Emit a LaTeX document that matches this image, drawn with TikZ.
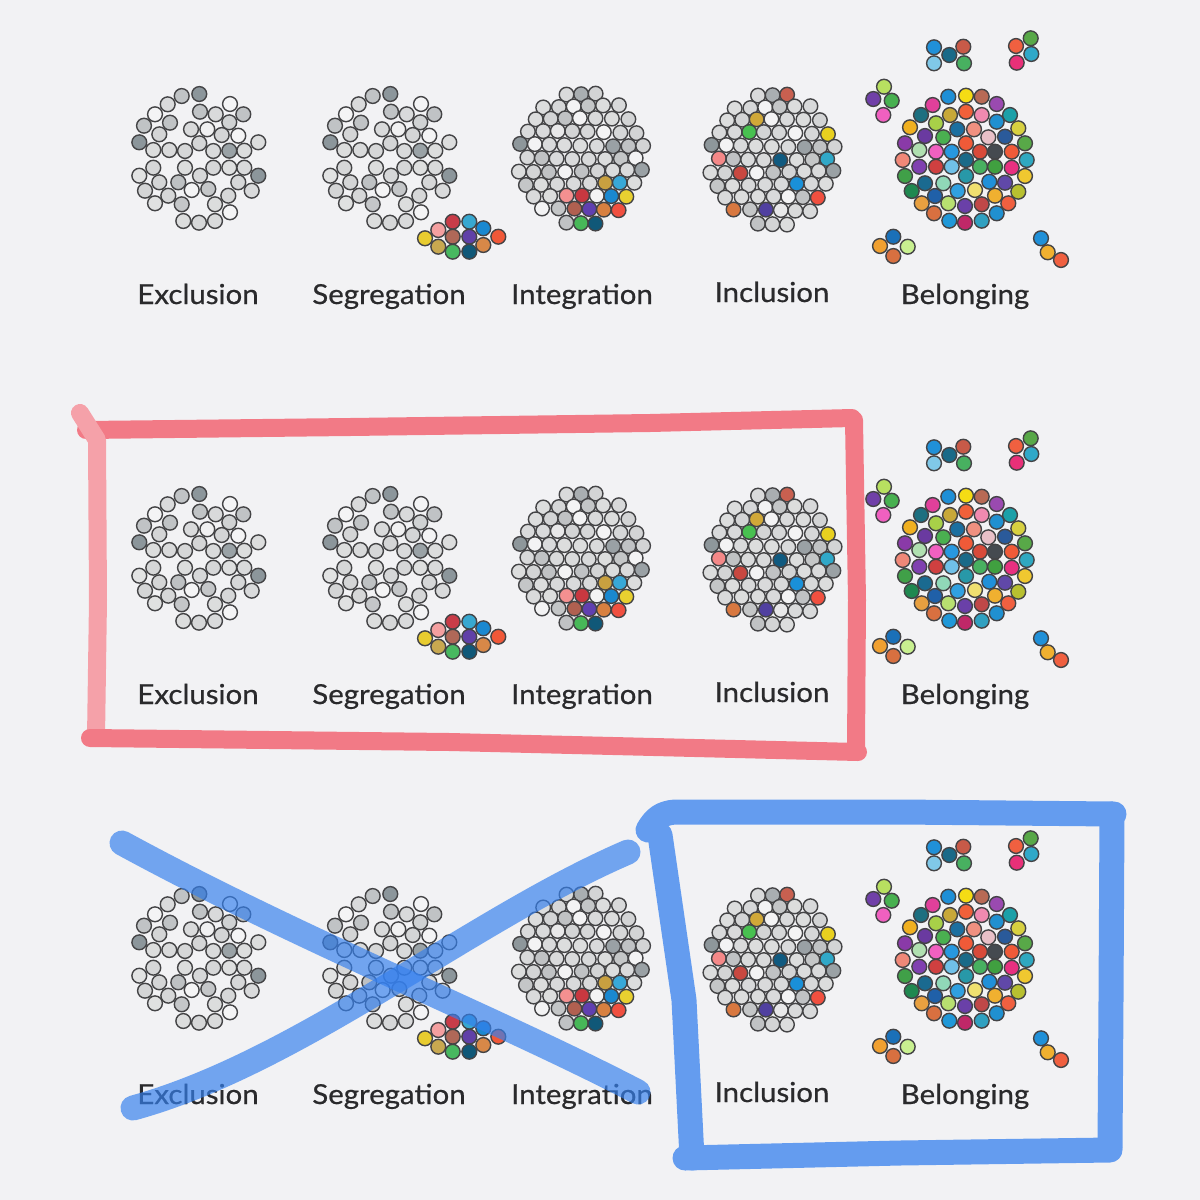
\documentclass[tikz,border=0pt]{standalone}
\usepackage{fontspec}
\setmainfont{Lato}[FakeBold=0.6, FakeStretch=1.07]
\definecolor{bg}{HTML}{F2F2F4}
\definecolor{dotline}{HTML}{444446}
\definecolor{txt}{HTML}{2A2A2C}
\definecolor{penred}{HTML}{F2606E}
\definecolor{penblue}{HTML}{3580EE}
\tikzset{
 dot/.style={draw=dotline, line width=1.4},
 lbl/.style={font=\fontsize{27.5}{30}\selectfont, text=txt, anchor=base, inner sep=0pt},
 redpen/.style={draw=penred, line width=18, line cap=round, line join=round},
 bluepen/.style={draw=penblue, line width=25, line cap=round, line join=round},
}
\newcommand\setcol[4]{\expandafter\def\csname cl@#1@#2@#3\endcsname{#4}}
% Integration overrides
\setcol{int}{2}{1}{C8A040}\setcol{int}{2}{2}{38A8D8}
\setcol{int}{3}{-1}{F49090}\setcol{int}{3}{0}{C83840}\setcol{int}{3}{2}{1A88D0}\setcol{int}{3}{3}{E8D030}
\setcol{int}{4}{-1}{B06050}\setcol{int}{4}{0}{6040B0}\setcol{int}{4}{1}{D88040}\setcol{int}{4}{2}{F05040}
\setcol{int}{5}{0}{48B858}\setcol{int}{5}{1}{105878}
\setcol{int}{-1}{-4}{8E979B}\setcol{int}{-1}{2}{9AA1A5}\setcol{int}{1}{4}{9AA1A5}\setcol{int}{-5}{0}{A9AEB1}
% Inclusion overrides
\setcol{inc}{-5}{1}{C86050}\setcol{inc}{-3}{-1}{D0A838}\setcol{inc}{-2}{3}{E8D020}\setcol{inc}{-2}{-2}{48C050}
\setcol{inc}{0}{-4}{F48888}\setcol{inc}{0}{0}{105A80}\setcol{inc}{0}{3}{30A8C8}\setcol{inc}{1}{-2}{C84840}
\setcol{inc}{2}{1}{1A90D8}\setcol{inc}{3}{3}{F05040}\setcol{inc}{4}{-1}{5040A0}\setcol{inc}{4}{-3}{D87840}
\setcol{inc}{-1}{-4}{8E979B}\setcol{inc}{-1}{2}{9AA1A5}\setcol{inc}{1}{4}{9AA1A5}\setcol{inc}{-5}{0}{A9AEB1}
\newcommand\lattice[3]{%
 \foreach \kk in {-5,...,5}{%
  \foreach \cc in {-4,...,4}{%
   \pgfmathsetmacro\xx{(\cc+(mod(abs(\kk),2)==0 ? 0.5 : 0))*15.5}%
   \pgfmathsetmacro\yy{\kk*12.9}%
   \pgfmathtruncatemacro\inside{(\xx*\xx+\yy*\yy<=4420)?1:0}%
   \ifnum\inside=1
    \ifcsname cl@#1@\kk @\cc\endcsname
     \edef\fc{\csname cl@#1@\kk @\cc\endcsname}%
    \else
     \pgfmathtruncatemacro\hh{mod(abs(7*\kk+13*\cc+5*\kk*\cc+11),10)}%
     \edef\fc{\ifcase\hh F3F3F4\or D8D9DA\or D9DADB\or D6D7D8\or DCDDDD\or D9DADB\or D3D4D5\or C4C6C7\or C0C2C4\or E8E8E9\fi}%
    \fi
    \pgfmathsetmacro\jx{1.2*sin(37*\kk+53*\cc)}%
    \pgfmathsetmacro\jy{1.2*cos(61*\kk+29*\cc)}%
    \definecolor{tmp}{HTML}{\fc}%
    \path[dot, fill=tmp] (#2+\xx+\jx, #3+\yy+\jy) circle[radius=7.3];
   \fi
  }}}
\newcommand\exclpat{%
 \foreach \x/\y/\h in {-17.3/-62/C0C3C5, 0.3/-64/8C969B, -31.3/-53.7/D9DADB, 31/-54/F4F4F5, -44/-43.7/F4F4F5, 1/-46.3/C0C3C5, 16.7/-43.7/D9DADB, 44.3/-43.7/C0C3C5, -29/-35.3/C0C3C5, 30.3/-35.7/D0D2D3, -55/-32.3/C0C3C5, -8/-28.7/D9DADB, 8.3/-28.7/F0F0F1, 22.7/-23/D4D5D6, -39.7/-23.7/D4D5D6, 39.3/-22.3/F4F4F5, -59.7/-15.7/8C969B, 0.3/-14.7/D4D5D6, 59.3/-15.7/DCDDDD, -45.7/-8/DCDDDD, -29.7/-8/D9DADB, -14/-7/D6D7D8, 14.3/-7/D9DADB, 30.3/-7.3/9AA2A6, 45.3/-7.3/DCDDDD, -45.7/9.7/D6D7D8, -14/9.7/DCDDDD, 14.3/9.7/D6D7D8, 30.3/9.7/DEDFDF, 45.3/9.7/D9DADB, -59.7/17.7/E2E3E3, 1/17.7/D6D7D8, 59.3/17.7/8C969B, -39.7/24.3/D4D5D6, -20.7/24.3/BEC1C3, 39.3/24.3/D6D7D8, -54/32.7/D4D5D6, -7.3/32/F4F4F5, 9.3/31/C4C6C8, 52.7/32.7/D9DADB, -30.7/37.7/D6D7D8, 29.3/37.7/D6D7D8, -44/45.3/E0E1E1, -17.3/46.3/C4C6C8, 16/46.3/DCDDDD, 31/54.3/F4F4F5, -15.7/63/DCDDDD, 0/64.7/D6D7D8, 16/63/D9DADB}{%
  \definecolor{tmp}{HTML}{\h}\path[dot, fill=tmp] (\x,\y) circle[radius=7.4];}}
\newcommand\dotlist[1]{%
 \foreach \x/\y/\h in {#1}{\definecolor{tmp}{HTML}{\h}\path[dot, fill=tmp] (\x,\y) circle[radius=7.4];}}
\newcommand\drawrow[1]{%
 \begin{scope}[shift={(199,158)}]\exclpat\end{scope}
 \begin{scope}[shift={(390,158)}]\exclpat\end{scope}
 \dotlist{425/238.3/E8CC30, 438.3/230/F4A0A0, 438.3/246.7/C8A850, 452.7/221.7/C83C48, 452.7/236.7/B06858, 452.7/251.7/48B860, 469.3/221.7/38A8D0, 469.3/236.7/6040A8, 469.3/251.7/105878, 483.3/228.3/1A88D0, 483.3/245/D88848, 498.3/236.7/F05838}
 \lattice{int}{581}{158}
 \lattice{inc}{772.5}{159}
 \dotlist{932.7/105/E0409A, 948.3/96.7/1F8FD6, 966/95.7/F5DC14, 981.7/96.7/B86A55, 996.7/104/9A4AB0,
  921/115/1D6F80, 950/115/C8A838, 966/111.7/F0603A, 981.7/115/F08AB0, 1010/115/1CA0A8,
  910/127.3/F0B020, 936/123.3/A8D048, 957.3/129.3/1C6FA0, 974/129.3/F09080, 996.7/121.7/2090D0, 1018.3/128.3/D8D040,
  905/143.3/8A3AA8, 925/136/6A3AA0, 943.3/137.3/4AB050, 988.3/137.3/E8C0C8, 1005/136.7/2A5A9A, 1025/143.3/58A848,
  919.3/150/B0E0B0, 936/151.7/F060C0, 951.7/151.7/2898E0, 966/143.3/F05A38, 980/151.7/D84A3A, 995/151.7/454A50, 1011.7/151.7/F05A38,
  902.7/160/F08878, 919.3/166.7/8040B0, 936/166.7/D04040, 951.7/166.7/70C0E8, 966/160/1A6A88, 980/166.7/48B060, 995/166.7/40A040, 1011.7/167.7/E83080, 1026.7/160/30A8C0,
  905/176/40A048, 925/183.3/1A6A90, 943.3/183.3/90D8B8, 966/176/2898A8, 989.3/181.7/2090D8, 1005/182.7/6048A8, 1025/176/F0C830,
  911.7/191/208850, 935/196/2060A8, 957.7/191/30A0E0, 975/190/F0E070, 995/195.7/F0B030, 1018.3/191.7/B8C030,
  921.7/203.3/E8A040, 948.3/203.3/B8E070, 965/206/6A40A8, 981.7/204.3/C04848, 1008.3/203.3/F06040, 934/213.3/D87040, 996.7/213.3/2090D0,
  949.3/220.7/2098D8, 965/222.7/C02868, 981.7/220.7/30A0C0}
 \dotlist{934/47.3/2090D8, 934/63.3/80C8E8, 949.3/55/1A6A88, 963.3/46.7/C85A48, 964/63.3/48B060,
  1016/46/F06040, 1030.7/38.3/58A848, 1031.3/54/30A8C8, 1016.7/62.7/E83078,
  884/86.7/B8E060, 873.3/99/7040A8, 891.7/100.7/48B050, 883.3/115/F060C0,
  893.3/236.7/1A70B8, 880/246/F0A030, 907.7/246.7/C8F090, 893.3/256/D87040,
  1041/238.3/2090D8, 1047.7/252.3/F0B030, 1061/260/F06040}
 \node[lbl] (ex#1) at (198,304) {Exclusion};
 \node[lbl] (se#1) at (389,304) {Segregation};
 \node[lbl] (in#1) at (582,304) {Integration};
 \node[lbl] (ic#1) at (772,302) {Inclusion};
 \node[lbl] (be#1) at (965,304) {Belonging};
}
\begin{document}
\begin{tikzpicture}[x=1pt,y=-1pt]
\useasboundingbox (0,0) rectangle (1200,1200);
\fill[bg] (0,0) rectangle (1200,1200);
\drawrow{a}
\begin{scope}[shift={(0,400)}]\drawrow{b}\end{scope}
\begin{scope}[shift={(0,800)}]\drawrow{c}\end{scope}
% red box
\begin{scope}[transparency group, opacity=0.82]
 \draw[redpen] (86,430) -- (350,427) -- (650,423) -- (852,418);
 \draw[redpen, draw=penred!70] (96,738) -- (98,600) -- (97,440) -- (80,413);
 \draw[redpen] (854,420) -- (857,600) -- (856,750);
 \draw[redpen] (90,738) -- (450,742) -- (858,752);
\end{scope}
% blue box
\begin{scope}[transparency group, opacity=0.75]
 \draw[bluepen] (648,830) .. controls (655,818) and (662,813) .. (675,812) -- (900,812) -- (1114,814);
 \draw[bluepen] (1112,814) -- (1111,1000) -- (1110,1148);
 \draw[bluepen] (1110,1150) -- (900,1153) -- (685,1158);
 \draw[bluepen] (660,835) -- (684,1000) -- (692,1158);
\end{scope}
% blue X
\draw[bluepen, opacity=0.68] (122,843) .. controls (300,940) and (500,1020) .. (638,1092);
\draw[bluepen, opacity=0.68] (133,1108) .. controls (300,1062) and (470,920) .. (628,852);
\end{tikzpicture}
\end{document}
